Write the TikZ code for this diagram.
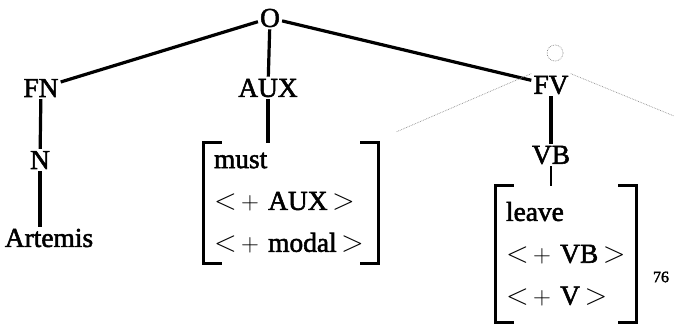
\documentclass[tikz,border=0pt]{standalone}
\usepackage{graphicx}
\usepackage{fontspec}
\setmainfont{Liberation Serif}[FakeBold=2]
\newfontfamily\treefont{Liberation Serif}[FakeBold=2]
\usepackage{tikz}
\usetikzlibrary{positioning}
\newcommand{\lang}{\scalebox{1.2}{$<$}\,$+$}
\newcommand{\rang}{\,\scalebox{1.2}{$>$}}

\begin{document}
\begin{tikzpicture}[x=1bp, y=-1bp, node distance=72bp,
    cat/.style={font=\treefont\fontsize{27.5}{32}\selectfont, inner sep=2bp},
    featbox/.style={font=\treefont\fontsize{27.5}{42}\selectfont, align=left,
                    inner xsep=10bp, inner ysep=0bp},
    branch/.style={line width=3.2bp, color=black},
    brack/.style={line width=3.2bp, color=black},
    faint/.style={densely dotted, line width=0.7bp, color=black!45}
  ]
    \useasboundingbox (0,0) rectangle (674,325);

    \node[cat] (O) at (270,18) {O};
    \node[cat] (FN) at (41,88) {FN};
    \node[cat] (AUX) at (268,88) {AUX};
    \node[cat] (FV) at (551,85) {FV};
    \node[cat, below of=FN, xshift=-1bp] (N) {N};
    \node[cat, below of=N, yshift=-6bp, xshift=9bp] (artemis) {Artemis};
    \node[cat, below of=FV, yshift=2bp] (VB) {VB};

    % feature matrices
    \node[featbox, text width=154bp, minimum height=120bp] (must) at (291,203)
        {must\\\mbox{\lang~AUX\rang}\\\mbox{\lang~modal\rang}};
    \node[featbox, text width=120bp, minimum height=136bp] (leave) at (566,254)
        {leave\\\mbox{\lang~VB\rang}\\\mbox{\lang~V\rang}};
    \node[font=\treefont\fontsize{16}{18}\selectfont] (page) at (661,277) {76};

    \draw[brack] ([xshift=18bp]must.north west) -- (must.north west)
        -- (must.south west) -- ([xshift=18bp]must.south west);
    \draw[brack] ([xshift=-18bp]must.north east) -- (must.north east)
        -- (must.south east) -- ([xshift=-18bp]must.south east);
    \draw[brack] ([xshift=18bp]leave.north west) -- (leave.north west)
        -- (leave.south west) -- ([xshift=18bp]leave.south west);
    \draw[brack] ([xshift=-18bp]leave.north east) -- (leave.north east)
        -- (leave.south east) -- ([xshift=-18bp]leave.south east);

    \draw[branch] (O) -- (FN);
    \draw[branch] (O) -- (AUX);
    \draw[branch] (O) -- (FV);
    \draw[branch] (FN) -- (N);
    \draw[branch] (N) -- (N |- artemis.north);
    \draw[branch] (AUX) -- (AUX |- must.north);
    \draw[branch] (FV) -- (VB);
    \draw[line width=1.8bp] (VB) -- (VB |- leave.north);

    % pencil marks
    \coordinate (lefttip) at (396,132);
    \coordinate (righttip) at (674,116);
    \draw[faint] (FV.north west) -- (lefttip);
    \draw[faint] (FV.north east) -- (righttip);
    \draw[faint] (555,53) circle (8);
\end{tikzpicture}
\end{document}
